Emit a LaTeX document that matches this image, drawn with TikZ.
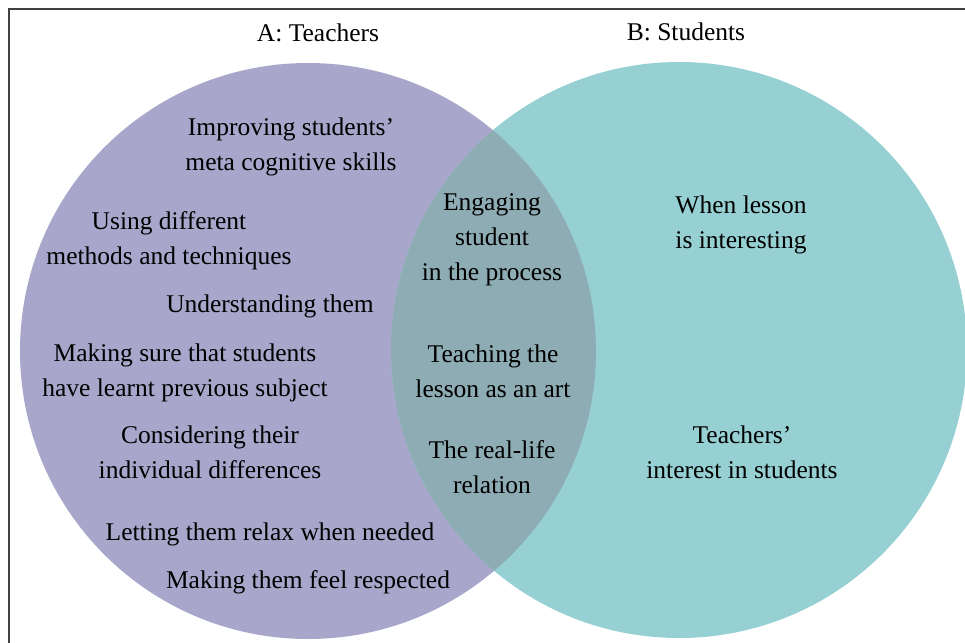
\documentclass[tikz,border=0pt]{standalone}
\usepackage{fontspec}
\setmainfont{Liberation Serif}
\usetikzlibrary{positioning}
\definecolor{teachfill}{RGB}{168,166,203}
\definecolor{studfill}{RGB}{150,208,211}
\definecolor{bothfill}{RGB}{142,172,180}

\begin{document}
\begin{tikzpicture}[x=0.5pt, y=-0.5pt,
  lbl/.style={align=center, inner sep=0pt, font=\fontsize{12.75}{17.5}\selectfont},
  ttl/.style={anchor=base, inner sep=0pt, font=\fontsize{12.75}{17.5}\selectfont}]
\useasboundingbox (0,0) rectangle (965,643);
\coordinate (ca) at (308,351);
\coordinate (cb) at (679,350);
\fill[teachfill] (ca) circle[radius=144pt];
\fill[studfill] (cb) circle[radius=144pt];
\begin{scope}
\clip (ca) circle[radius=144pt];
\fill[bothfill] (cb) circle[radius=144pt];
\end{scope}
\draw[line width=1pt, black!75] (9,643) -- (9,9) -- (965,9);
\node[ttl] (teachers) at (318,41) {A: Teachers};
\node[ttl] (students) at (686,40) {B: Students};
\node[lbl] (improving) at (291,147) {Improving students'\\meta cognitive skills};
\node[lbl] (methods) at (169,241) {Using different\\methods and techniques};
\node[ttl] (understanding) at (270,312) {Understanding them};
\node[lbl] (previous) at (185,373) {Making sure that students\\have learnt previous subject};
\node[lbl] (differences) at (210,452) {Considering their\\individual differences};
\node[ttl] (relax) at (270,540) {Letting them relax when needed};
\node[ttl] (respected) at (308,588) {Making them feel respected};
\node[lbl] (engaging) at (492,240) {Engaging\\student\\in the process};
\node[lbl] (art) at (493,371) {Teaching the\\lesson as an art};
\node[lbl] (reallife) at (492,467) {The real-life\\relation};
\node[lbl] (interesting) at (741,225) {When lesson\\is interesting};
\node[lbl] (interest) at (742,452) {Teachers'\\interest in students};
\end{tikzpicture}
\end{document}
